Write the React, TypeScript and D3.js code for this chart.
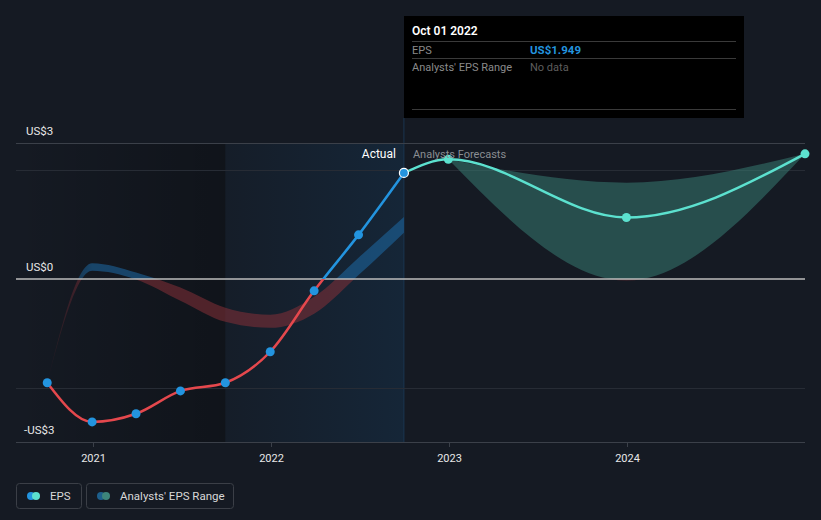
import { useEffect } from 'react';
import * as d3 from 'd3';

// EPS (actual), quarterly
const actualDates = ['2020-09-30', '2020-12-31', '2021-03-31', '2021-06-30', '2021-09-30', '2021-12-31', '2022-03-31', '2022-06-30', '2022-10-01'];
const actualEps = [-1.91, -2.63, -2.48, -2.06, -1.91, -1.34, -0.22, 0.81, 1.949];

// analysts' past estimate range
const pastLow = [-1.91, 0.15, -0.01, -0.4, -0.79, -0.9, -0.64, 0.07, 0.85];
const pastHigh = [-1.91, 0.29, 0.12, -0.16, -0.53, -0.66, -0.33, 0.39, 1.14];

// forecasts
const forecastDates = ['2022-12-31', '2023-12-31', '2024-12-31'];
const forecastEps = [2.2, 1.13, 2.3];
const forecastLow = [2.2, -0.03, 2.3];
const forecastHigh = [2.2, 1.77, 2.3];

const yearTicks = ['2021', '2022', '2023', '2024'];
const yLabels = [
  { v: 2.5, t: 'US$3' },
  { v: 0, t: 'US$0' },
  { v: -3, t: '-US$3' },
];
const gridValues = [2, -2];

const W = 821;
const H = 520;
const FONT = 'Roboto, "Noto Sans", sans-serif';
const BLUE = '#2394df';
const RED = '#e5484d';
const TEAL = '#5ce1cf';

type Pt = { d: Date; v: number; lo?: number; hi?: number };

const App = () => {
  useEffect(() => {
    document.body.style.margin = '0';
    document.body.style.background = '#151a23';
  }, []);

  const parse = d3.timeParse('%Y-%m-%d');
  const x = d3
    .scaleTime()
    .domain([parse('2020-07-28')!, parse('2024-12-31')!])
    .range([16, 805]);
  const y = d3.scaleLinear().domain([-3, 2.5]).range([442, 143]);
  const y0 = y(0);

  const actual: Pt[] = actualDates.map((s, i) => ({ d: parse(s)!, v: actualEps[i], lo: pastLow[i], hi: pastHigh[i] }));
  const lastActual = actual[actual.length - 1];
  const forecast: Pt[] = forecastDates.map((s, i) => ({ d: parse(s)!, v: forecastEps[i], lo: forecastLow[i], hi: forecastHigh[i] }));
  const forecastLine = [lastActual, ...forecast];

  const line = d3
    .line<Pt>()
    .x((p) => x(p.d))
    .y((p) => y(p.v))
    .curve(d3.curveMonotoneX);
  const band = d3
    .area<Pt>()
    .x((p) => x(p.d))
    .y0((p) => y(p.lo!))
    .y1((p) => y(p.hi!))
    .curve(d3.curveMonotoneX);

  const xPastEnd = x(parse('2021-09-30')!);
  const xNow = x(lastActual.d);

  return (
    <svg width={W} height={H} style={{ display: 'block', background: '#151a23', fontFamily: FONT }}>
      <defs>
        <clipPath id='above'>
          <rect x={0} y={0} width={W} height={y0} />
        </clipPath>
        <clipPath id='below'>
          <rect x={0} y={y0} width={W} height={H - y0} />
        </clipPath>
        <linearGradient id='pastShade' x1='0' x2='1' y1='0' y2='0'>
          <stop offset='0%' stopColor='#000' stopOpacity={0} />
          <stop offset='100%' stopColor='#000' stopOpacity={0.25} />
        </linearGradient>
        <linearGradient id='nowShade' x1='0' x2='1' y1='0' y2='0'>
          <stop offset='0%' stopColor='#155080' stopOpacity={0.06} />
          <stop offset='100%' stopColor='#155080' stopOpacity={0.22} />
        </linearGradient>
        <linearGradient id='bandFade' gradientUnits='userSpaceOnUse' x1={x(actual[0].d)} x2={x(actual[1].d)} y1='0' y2='0'>
          <stop offset='0%' stopColor='#fff' stopOpacity={0.15} />
          <stop offset='100%' stopColor='#fff' stopOpacity={1} />
        </linearGradient>
        <mask id='fadeMask'>
          <rect x={0} y={0} width={W} height={H} fill='url(#bandFade)' />
        </mask>
      </defs>

      {/* shaded periods */}
      <rect x={16} y={143} width={xPastEnd - 16} height={442 - 143} fill='url(#pastShade)' />
      <rect x={xPastEnd} y={143} width={xNow - xPastEnd} height={442 - 143} fill='url(#nowShade)' />
      <line x1={xNow} x2={xNow} y1={118} y2={442} stroke='#1a3550' strokeWidth={1} />

      {/* grid */}
      <line x1={16} x2={805} y1={143.5} y2={143.5} stroke='#3b4049' />
      {gridValues.map((g) => (
        <line key={g} x1={16} x2={805} y1={Math.round(y(g)) + 0.5} y2={Math.round(y(g)) + 0.5} stroke='#272c35' />
      ))}
      <line x1={16} x2={805} y1={442.5} y2={442.5} stroke='#3b4049' />
      {yearTicks.map((t) => {
        const tx = Math.round(x(parse(`${t}-01-01`)!)) + 0.5;
        return (
          <g key={t}>
            <line x1={tx} x2={tx} y1={442} y2={447} stroke='#3b4049' />
            <text x={tx} y={462} textAnchor='middle' fill='#e8e8e8' fontSize={11}>
              {t}
            </text>
          </g>
        );
      })}

      {/* analysts' past estimate range */}
      <g mask='url(#fadeMask)' opacity={0.55}>
        <path d={band(actual)!} fill='#1d6aa6' clipPath='url(#above)' />
        <path d={band(actual)!} fill='#853038' clipPath='url(#below)' />
      </g>

      {/* forecast range */}
      <path d={band(forecast)!} fill='#3a8178' opacity={0.5} clipPath='url(#above)' />
      <path d={band(forecast)!} fill='#8a3035' opacity={0.45} clipPath='url(#below)' />

      {/* zero line */}
      <line x1={16} x2={805} y1={y0} y2={y0} stroke='#bdbdbd' strokeWidth={1.5} />

      {/* actual EPS line */}
      <path d={line(actual)!} fill='none' stroke={BLUE} strokeWidth={2.5} clipPath='url(#above)' />
      <path d={line(actual)!} fill='none' stroke={RED} strokeWidth={2.5} clipPath='url(#below)' />
      <path d={line(forecastLine)!} fill='none' stroke={TEAL} strokeWidth={2.5} />

      {actual.slice(0, -1).map((p, i) => (
        <circle key={i} cx={x(p.d)} cy={y(p.v)} r={4.5} fill={BLUE} />
      ))}
      <circle cx={x(lastActual.d)} cy={y(lastActual.v)} r={4.5} fill={BLUE} stroke='#fff' strokeWidth={1.2} />
      {forecast.map((p, i) => (
        <circle key={i} cx={x(p.d)} cy={y(p.v)} r={4.5} fill={TEAL} />
      ))}

      {/* y labels */}
      {yLabels.map((l) => (
        <text key={l.t} x={l.v < 0 ? 24 : 26} y={y(l.v) - 8} fill='#e8e8e8' fontSize={11.5}>
          {l.t}
        </text>
      ))}

      <text x={xNow - 8} y={158} textAnchor='end' fill='#ffffff' fontSize={12}>
        Actual
      </text>
      <text x={xNow + 9} y={158} fill='#8a8d92' fontSize={11}>
        Analysts Forecasts
      </text>

      {/* tooltip */}
      <g>
        <rect x={404} y={16} width={340} height={102} fill='#000' />
        <text x={412} y={35} fill='#fff' fontSize={12} fontWeight={600}>
          Oct 01 2022
        </text>
        <line x1={412} x2={736} y1={41.5} y2={41.5} stroke='#3a3a3a' />
        <text x={412} y={54} fill='#8a8a8a' fontSize={11}>
          EPS
        </text>
        <text x={530} y={54} fill={BLUE} fontSize={11.5} fontWeight={700}>
          US$1.949
        </text>
        <line x1={412} x2={736} y1={58.5} y2={58.5} stroke='#3a3a3a' />
        <text x={412} y={71} fill='#8a8a8a' fontSize={11}>
          Analysts' EPS Range
        </text>
        <text x={530} y={71} fill='#5e5e5e' fontSize={11}>
          No data
        </text>
        <line x1={412} x2={736} y1={109.5} y2={109.5} stroke='#3a3a3a' />
      </g>

      {/* legend */}
      <g fontSize={11.5} fill='#d8d8d8'>
        <rect x={16.5} y={483.5} width={65} height={25} rx={3} fill='none' stroke='#3b3f47' />
        <circle cx={31} cy={496} r={4} fill={BLUE} />
        <circle cx={36} cy={496} r={4} fill={TEAL} />
        <text x={50} y={500}>EPS</text>
        <rect x={86.5} y={483.5} width={147} height={25} rx={3} fill='none' stroke='#3b3f47' />
        <circle cx={101} cy={496} r={4} fill='#1d5f8c' />
        <circle cx={106} cy={496} r={4} fill='#3d857b' />
        <text x={120} y={500}>Analysts' EPS Range</text>
      </g>
    </svg>
  );
};

export default App;
